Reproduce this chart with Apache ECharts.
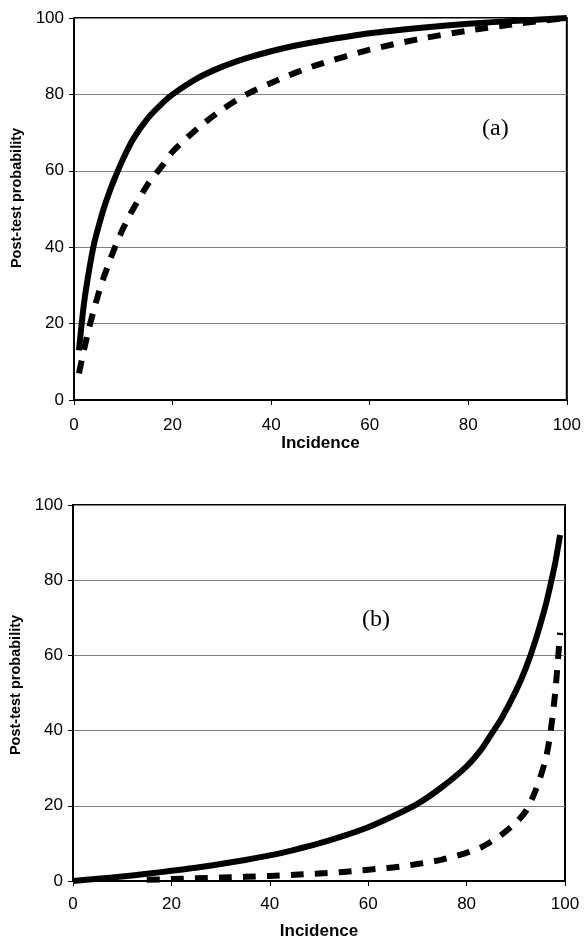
<!DOCTYPE html>
<html>
<head>
<meta charset="utf-8">
<script src="https://cdn.jsdelivr.net/npm/echarts@6/dist/echarts.min.js"></script>
<style>html,body{margin:0;padding:0;background:#fff;}#c{width:584px;height:943px;}</style>
</head>
<body>
<div id="c"></div>
<script>
// Panel (a)
const incidenceA = [1, 2, 3, 4, 5, 6, 7, 8, 10, 12, 15, 18, 20, 25, 30, 35, 40, 45, 50, 60, 70, 80, 90, 100];
const solidA =     [13, 25, 33.5, 40.5, 45.5, 50, 53.8, 57.2, 63.2, 68.3, 73.8, 77.8, 80, 84.2, 87.2, 89.5, 91.3, 92.8, 94, 96, 97.4, 98.5, 99.3, 100];
const dashedA =    [7, 13, 18.5, 23.5, 28, 32, 35.5, 39, 45, 50, 56.5, 61.5, 65, 71, 76, 80, 83, 85.7, 88, 91.7, 94.5, 96.7, 98.5, 100];
// Panel (b)
const incidenceB = [0, 5, 10, 15, 20, 25, 30, 35, 40, 45, 50, 55, 60, 65, 70, 75, 80, 83, 85, 87, 90, 92, 94, 96, 97, 98, 99];
const solidB =     [0, 0.6, 1.2, 1.9, 2.7, 3.5, 4.5, 5.6, 6.8, 8.3, 10, 12, 14.3, 17.2, 20.5, 25, 30.5, 35, 39, 43, 50.5, 56.5, 64, 73, 78.5, 84.5, 92];
const dashedB =    [null, null, null, 0.35, 0.5, 0.7, 0.9, 1.1, 1.35, 1.65, 2, 2.4, 3, 3.6, 4.5, 5.7, 7.5, 9, 10.5, 12.2, 15.5, 18.5, 24, 32, 39, 50, 66];
const ticks = [0, 20, 40, 60, 80, 100];
const xName = 'Incidence';
const yName = 'Post-test probability';
const panelLabels = ['(a)', '(b)'];

function pairs(xs, ys) {
  const out = [];
  xs.forEach((x, i) => { if (ys[i] !== null) out.push([x, ys[i]]); });
  return out;
}

const FONT = '"Liberation Sans", Arial, sans-serif';
function xAxis(gi, gap, margin) {
  return {
    type: 'value', gridIndex: gi, min: ticks[0], max: ticks[ticks.length - 1], interval: 20,
    name: xName, nameLocation: 'middle', nameGap: gap,
    nameTextStyle: { fontFamily: FONT, fontWeight: 'bold', fontSize: 17, color: '#000' },
    axisLine: { show: true, lineStyle: { color: '#000', width: 2 } },
    axisTick: { show: true, length: 5, lineStyle: { color: '#000', width: 1 } },
    axisLabel: { fontFamily: FONT, fontSize: 17, color: '#000', margin: margin },
    splitLine: { show: false }
  };
}
function yAxis(gi, shift) {
  return {
    type: 'value', gridIndex: gi, min: ticks[0], max: ticks[ticks.length - 1], interval: 20,
    name: yName, nameLocation: 'middle', nameGap: 46,
    nameTextStyle: { fontFamily: FONT, fontWeight: 'bold', fontSize: 14.5, color: '#000', padding: [0, 0, 0, shift] },
    axisLine: { show: true, lineStyle: { color: '#000', width: 2 } },
    axisTick: { show: true, length: 5, lineStyle: { color: '#000', width: 1 } },
    axisLabel: { fontFamily: FONT, fontSize: 17, color: '#000', margin: 10 },
    splitLine: { show: true, lineStyle: { color: '#808080', width: 1 } }
  };
}
function line(gi, data, dashed) {
  return {
    type: 'line', xAxisIndex: gi, yAxisIndex: gi, data: data, showSymbol: false, symbol: 'none',
    smooth: 0.25, animation: false,
    lineStyle: { color: '#000', width: 6, type: dashed ? [13, 11] : 'solid', cap: 'butt', join: 'round' }
  };
}

const chart = echarts.init(document.getElementById('c'), null, { renderer: 'canvas' });
chart.setOption({
  backgroundColor: '#fff',
  animation: false,
  grid: [
    { left: 74, top: 18, width: 494, height: 382, show: true, borderColor: '#000', borderWidth: 2, backgroundColor: 'transparent' },
    { left: 73, top: 505, width: 492, height: 376, show: true, borderColor: '#000', borderWidth: 2, backgroundColor: 'transparent' }
  ],
  xAxis: [xAxis(0, 34, 17), xAxis(1, 42, 15)],
  yAxis: [yAxis(0, 22), yAxis(1, 16)],
  series: [
    line(0, pairs(incidenceA, solidA), false),
    line(0, pairs(incidenceA, dashedA), true),
    line(1, pairs(incidenceB, solidB), false),
    line(1, pairs(incidenceB, dashedB), true)
  ],
  graphic: [
    { type: 'text', left: 482, top: 117, style: { text: panelLabels[0], font: '24px "Liberation Serif", "Times New Roman", serif', fill: '#000' } },
    { type: 'text', left: 362, top: 608, style: { text: panelLabels[1], font: '24px "Liberation Serif", "Times New Roman", serif', fill: '#000' } }
  ]
});
</script>
</body>
</html>
